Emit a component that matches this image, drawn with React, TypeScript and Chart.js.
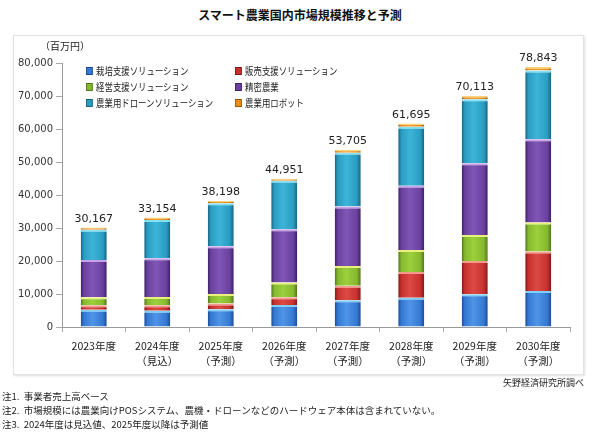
import React, { useEffect, useRef } from "react";
import { Chart, registerables } from "chart.js";

Chart.register(...registerables);

const categories: string[][] = [
  ["2023年度"],
  ["2024年度", "（見込）"],
  ["2025年度", "（予測）"],
  ["2026年度", "（予測）"],
  ["2027年度", "（予測）"],
  ["2028年度", "（予測）"],
  ["2029年度", "（予測）"],
  ["2030年度", "（予測）"],
];

const cultivation = [5200, 4900, 5400, 6700, 8100, 8900, 9900, 10900];
const sales = [1400, 1700, 1700, 2300, 4400, 7800, 10100, 12000];
const management = [2400, 2500, 2900, 4500, 6000, 6600, 7900, 8800];
const precision = [11300, 11700, 14500, 16100, 18000, 19500, 21700, 25200];
const drone = [9200, 11600, 13000, 14700, 16300, 17900, 19400, 20800];
const robot = [667, 754, 698, 651, 905, 995, 1113, 1143];
const totals = [30167, 33154, 38198, 44951, 53705, 61695, 70113, 78843];

const seriesNames = [
  "栽培支援ソリューション",
  "販売支援ソリューション",
  "経営支援ソリューション",
  "精密農業",
  "農業用ドローンソリューション",
  "農業用ロボット",
];

const yTicks = [0, 10000, 20000, 30000, 40000, 50000, 60000, 70000, 80000];

// [edge, base, light, highlight]
const palette = [
  ["#1c4a96", "#3479d2", "#4f94e6", "#7fd0f6"],
  ["#801818", "#c8302e", "#dc4a44", "#f59a8c"],
  ["#50741a", "#86b82e", "#9cd03c", "#e8f27a"],
  ["#3a2066", "#6a419e", "#7f55b6", "#c9a0e6"],
  ["#16647e", "#2a9cc2", "#3cb4d8", "#84e0f4"],
  ["#9a5408", "#e88c1c", "#f4a030", "#fbd078"],
];

const CJK = '"Noto Sans CJK JP", "Noto Sans", sans-serif';
const NUM = '"DejaVu Sans", Verdana, sans-serif';

const gradientPlugin = {
  id: "barGradient",
  beforeDatasetsDraw(chart: any) {
    const ctx = chart.ctx;
    chart.data.datasets.forEach((ds: any, di: number) => {
      const meta = chart.getDatasetMeta(di);
      const p = palette[di];
      meta.data.forEach((el: any) => {
        const w = el.width;
        const x0 = el.x - w / 2;
        const g = ctx.createLinearGradient(x0, 0, x0 + w, 0);
        g.addColorStop(0, p[0]);
        g.addColorStop(0.12, p[1]);
        g.addColorStop(0.45, p[2]);
        g.addColorStop(0.85, p[1]);
        g.addColorStop(1, p[0]);
        el.options = Object.assign({}, el.options, { backgroundColor: g });
      });
    });
  },
};

const totalsPlugin = {
  id: "totals",
  afterDatasetsDraw(chart: any) {
    const ctx = chart.ctx;
    const meta = chart.getDatasetMeta(chart.data.datasets.length - 1);
    ctx.save();
    ctx.font = `11px ${NUM}`;
    ctx.fillStyle = "#222";
    ctx.textAlign = "center";
    ctx.textBaseline = "bottom";
    meta.data.forEach((el: any, i: number) => {
      ctx.fillText(totals[i].toLocaleString("en-US"), el.x, el.y - 3);
    });
    ctx.restore();
  },
};

export default function App() {
  const ref = useRef<HTMLCanvasElement>(null);

  useEffect(() => {
    if (!ref.current) return;
    const values = [cultivation, sales, management, precision, drone, robot];
    const chart = new Chart(ref.current, {
      type: "bar",
      data: {
        labels: categories,
        datasets: values.map((v, i) => ({
          label: seriesNames[i],
          data: v,
          backgroundColor: () => palette[i][1],
          borderColor: palette[i][3],
          borderWidth: { top: 2, left: 0, right: 0, bottom: 0 },
          borderSkipped: false,
          categoryPercentage: 1,
          barPercentage: 0.41,
        })),
      },
      options: {
        responsive: false,
        animation: false,
        layout: { padding: { left: 0, right: 30, top: 63, bottom: 65 } },
        plugins: {
          legend: { display: false },
          tooltip: { enabled: false },
          title: { display: false },
        },
        scales: {
          x: {
            stacked: true,
            grid: {
              display: true,
              offset: true,
              drawOnChartArea: false,
              tickLength: 5,
              color: "#aaa",
            },
            border: { color: "#999" },
            ticks: {
              font: { family: CJK, size: 10.5, lineHeight: 1.4 },
              color: "#222",
              padding: 7,
              maxRotation: 0,
              autoSkip: false,
            },
            afterFit: (s: any) => {
              s.height = 40;
            },
          },
          y: {
            stacked: true,
            min: 0,
            max: 80000,
            afterBuildTicks: (s: any) => {
              s.ticks = yTicks.map((v) => ({ value: v }));
            },
            grid: {
              display: true,
              drawOnChartArea: false,
              tickLength: 6,
              color: "#aaa",
            },
            border: { color: "#999" },
            ticks: {
              font: { family: NUM, size: 10 },
              color: "#333",
              padding: 3,
              callback: (v: any) => Number(v).toLocaleString("en-US"),
            },
            afterFit: (s: any) => {
              s.width = 62;
            },
          },
        },
      },
      plugins: [gradientPlugin, totalsPlugin],
    });
    return () => chart.destroy();
  }, []);

  const legendPos = [
    [86, 71],
    [235, 71],
    [86, 87],
    [235, 87],
    [86, 103],
    [235, 103],
  ];

  return (
    <div
      style={{
        position: "fixed",
        left: 0,
        top: 0,
        width: 600,
        height: 432,
        background: "#fff",
        overflow: "hidden",
        fontFamily: CJK,
      }}
    >
      <div
        style={{
          position: "absolute",
          left: 0,
          top: 6,
          width: 600,
          textAlign: "center",
          fontSize: 12,
          fontWeight: 700,
          color: "#111",
          lineHeight: "18px",
        }}
      >
        スマート農業国内市場規模推移と予測
      </div>
      <div
        style={{
          position: "absolute",
          left: 13,
          top: 35,
          width: 569,
          height: 338,
          border: "1px solid #e2e2e2",
          boxShadow: "1px 1px 2px rgba(0,0,0,0.12)",
        }}
      />
      <canvas
        ref={ref}
        width={600}
        height={432}
        style={{ position: "absolute", left: 0, top: 0, width: 600, height: 432 }}
      />
      <div
        style={{
          position: "absolute",
          left: 40,
          top: 39,
          fontSize: 10,
          color: "#222",
          lineHeight: "14px",
        }}
      >
        （百万円）
      </div>
      {seriesNames.map((n, i) => (
        <div
          key={n}
          style={{
            position: "absolute",
            left: legendPos[i][0],
            top: legendPos[i][1] - 8,
            fontSize: 10,
            lineHeight: "16px",
            color: "#222",
            display: "flex",
            alignItems: "center",
            whiteSpace: "nowrap",
            transform: "scaleX(0.84)",
            transformOrigin: "left center",
          }}
        >
          <span
            style={{
              display: "inline-block",
              width: 6,
              height: 6,
              background: palette[i][1],
              border: `1px solid ${palette[i][0]}`,
              marginRight: 4,
            }}
          />
          {n}
        </div>
      ))}
      <div
        style={{
          position: "absolute",
          right: 16,
          top: 376,
          fontSize: 9,
          color: "#222",
          lineHeight: "13px",
        }}
      >
        矢野経済研究所調べ
      </div>
      {[
        "注1.  事業者売上高ベース",
        "注2.  市場規模には農業向けPOSシステム、農機・ドローンなどのハードウェア本体は含まれていない。",
        "注3.  2024年度は見込値、2025年度以降は予測値",
      ].map((t, i) => (
        <div
          key={i}
          style={{
            position: "absolute",
            left: 2,
            top: 390 + i * 14,
            fontSize: 9.5,
            color: "#222",
            lineHeight: "13px",
            whiteSpace: "pre",
          }}
        >
          {t}
        </div>
      ))}
    </div>
  );
}
